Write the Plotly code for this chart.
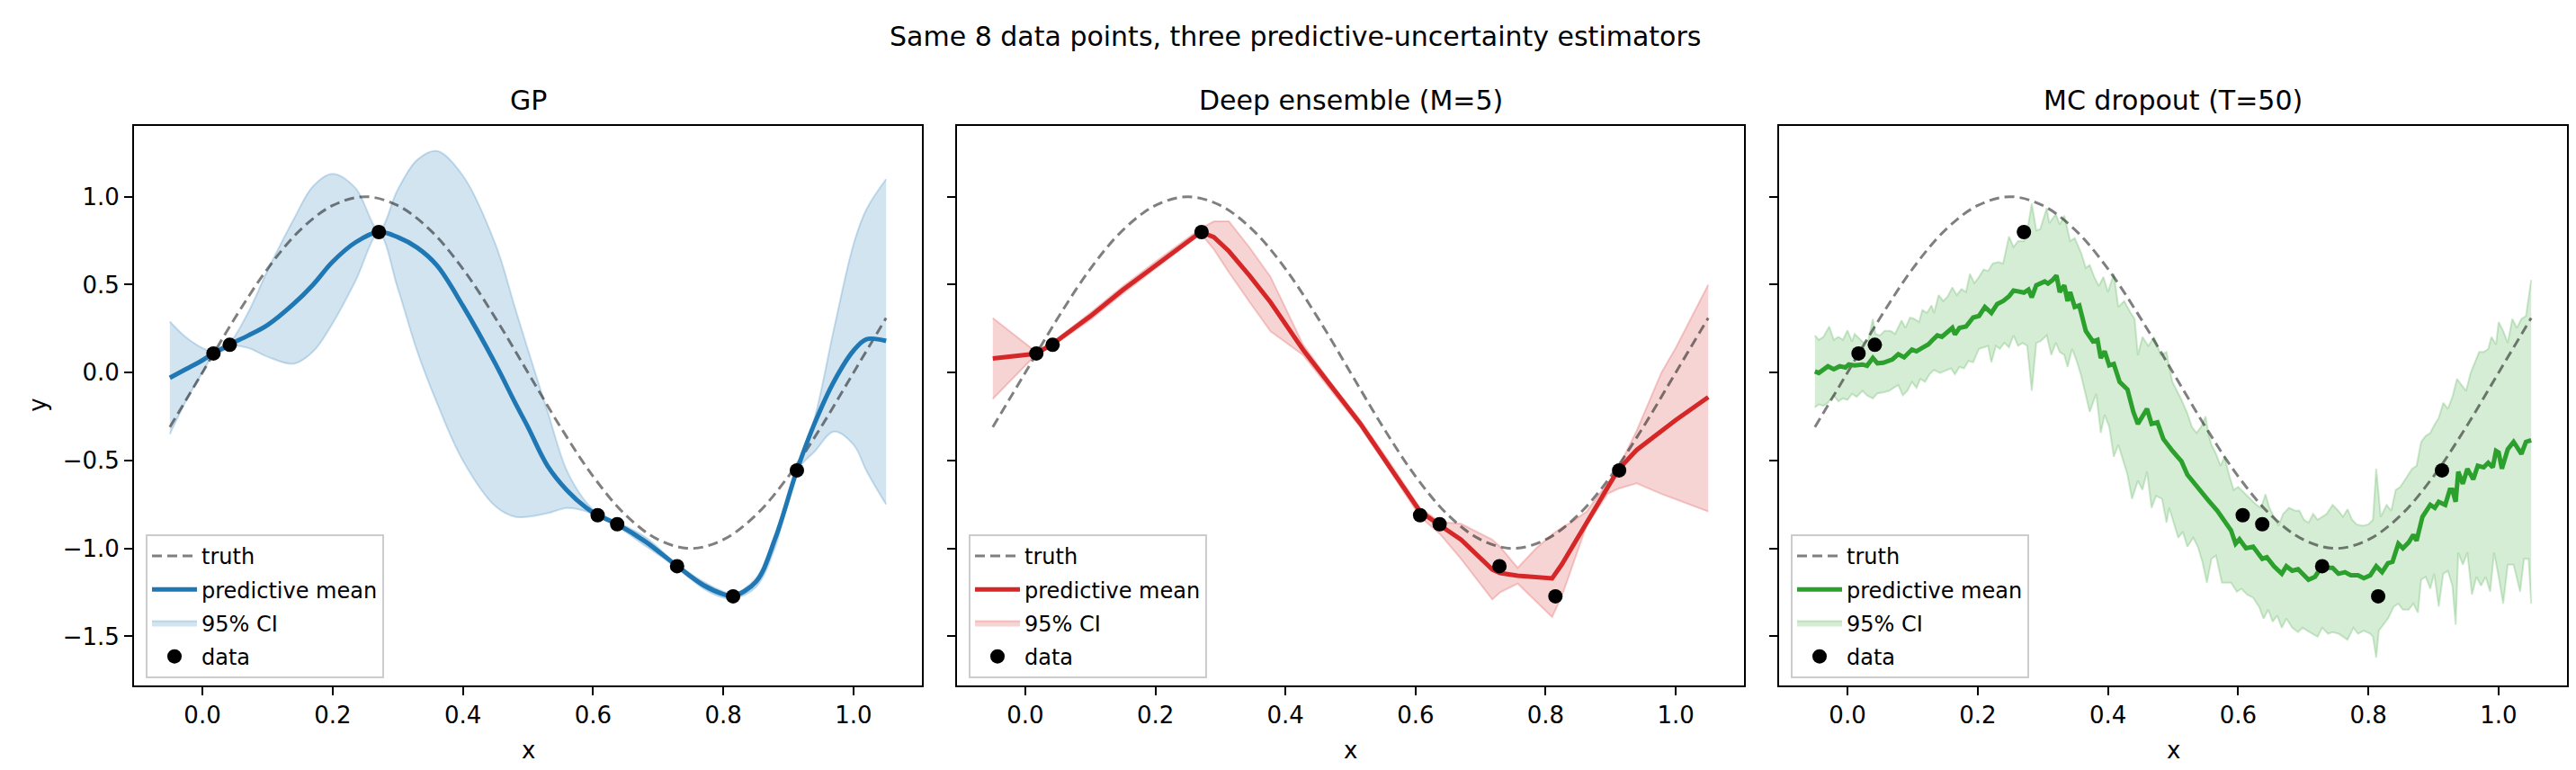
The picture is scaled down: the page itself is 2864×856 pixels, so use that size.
import plotly.graph_objects as go

# ---- data ----
truth_x = [-0.05, 0.0, 0.05, 0.1, 0.15, 0.2, 0.25, 0.3, 0.35, 0.4, 0.45, 0.5,
           0.55, 0.6, 0.65, 0.7, 0.75, 0.8, 0.85, 0.9, 0.95, 1.0, 1.05]
truth_y = [-0.31, 0.0, 0.31, 0.59, 0.81, 0.95, 1.0, 0.95, 0.81, 0.59, 0.31, 0.0,
           -0.31, -0.59, -0.81, -0.95, -1.0, -0.95, -0.81, -0.59, -0.31, 0.0, 0.31]

data_x = [0.017, 0.042, 0.271, 0.607, 0.637, 0.729, 0.815, 0.913]
data_y = [0.109, 0.158, 0.799, -0.811, -0.862, -1.101, -1.272, -0.556]

# GP
gp_x = [-0.05, -0.025, 0.0, 0.017, 0.03, 0.042, 0.07, 0.1, 0.14, 0.17, 0.2, 0.235,
        0.271, 0.3, 0.33, 0.36, 0.4, 0.45, 0.48, 0.5, 0.53, 0.56, 0.59, 0.607,
        0.637, 0.68, 0.729, 0.77, 0.8, 0.815, 0.85, 0.88, 0.913, 0.94, 0.97, 1.0,
        1.02, 1.05]
gp_mean = [-0.03, 0.02, 0.07, 0.11, 0.135, 0.16, 0.21, 0.27, 0.39, 0.50, 0.63, 0.74,
           0.80, 0.77, 0.71, 0.61, 0.38, 0.05, -0.17, -0.31, -0.53, -0.67, -0.77, -0.81,
           -0.862, -0.96, -1.10, -1.21, -1.26, -1.27, -1.19, -0.94, -0.556, -0.29, -0.05, 0.125,
           0.19, 0.18]
gp_hi = [0.29, 0.20, 0.14, 0.12, 0.15, 0.17, 0.34, 0.58, 0.87, 1.06, 1.13, 1.05,
         0.81, 1.04, 1.21, 1.26, 1.12, 0.73, 0.37, 0.13, -0.22, -0.56, -0.74, -0.80,
         -0.85, -0.935, -1.09, -1.19, -1.245, -1.26, -1.17, -0.92, -0.55, -0.26, 0.25, 0.73,
         0.93, 1.10]
gp_lo = [-0.35, -0.16, 0.00, 0.10, 0.12, 0.15, 0.14, 0.09, 0.05, 0.12, 0.28, 0.52,
         0.79, 0.48, 0.12, -0.17, -0.50, -0.76, -0.82, -0.82, -0.80, -0.77, -0.79, -0.82,
         -0.875, -0.985, -1.11, -1.23, -1.28, -1.285, -1.22, -0.99, -0.56, -0.45, -0.335, -0.41,
         -0.56, -0.75]

# Deep ensemble
ens_x = [-0.05, 0.016, 0.041, 0.1, 0.15, 0.2, 0.27, 0.29, 0.313, 0.345, 0.377, 0.427,
         0.47, 0.515, 0.56, 0.607, 0.638, 0.67, 0.718, 0.73, 0.757, 0.785, 0.81, 0.825,
         0.84, 0.863, 0.895, 0.912, 0.94, 0.978, 1.0, 1.05]
ens_mean = [0.08, 0.107, 0.16, 0.32, 0.47, 0.61, 0.80, 0.77, 0.69, 0.55, 0.40, 0.13,
            -0.076, -0.29, -0.535, -0.79, -0.87, -0.95, -1.12, -1.14, -1.155, -1.165, -1.17, -1.09,
            -0.997, -0.85, -0.65, -0.55, -0.44, -0.33, -0.27, -0.14]
ens_hi = [0.31, 0.12, 0.17, 0.34, 0.49, 0.63, 0.82, 0.86, 0.86, 0.71, 0.545, 0.16,
          -0.06, -0.27, -0.51, -0.77, -0.85, -0.86, -0.95, -0.99, -1.11, -1.00, -0.92, -0.88,
          -0.85, -0.79, -0.63, -0.54, -0.33, 0.0, 0.14, 0.50]
ens_lo = [-0.15, 0.10, 0.15, 0.30, 0.45, 0.59, 0.79, 0.70, 0.57, 0.40, 0.235, 0.10,
          -0.10, -0.31, -0.555, -0.82, -0.92, -1.06, -1.29, -1.25, -1.20, -1.30, -1.39, -1.27,
          -1.11, -0.87, -0.69, -0.66, -0.63, -0.69, -0.72, -0.79]

# MC dropout
mc_x = [-0.05, -0.044, -0.030, -0.021, -0.012, -0.003, 0.002, 0.011, 0.023, 0.030,
        0.039, 0.046, 0.055, 0.069, 0.078, 0.087, 0.099, 0.106, 0.115, 0.124,
        0.131, 0.138, 0.145, 0.152, 0.161, 0.165, 0.172, 0.182, 0.193, 0.202,
        0.211, 0.221, 0.230, 0.239, 0.248, 0.255, 0.271, 0.278, 0.283, 0.290,
        0.303, 0.308, 0.315, 0.321, 0.326, 0.333, 0.338, 0.342, 0.349, 0.356,
        0.366, 0.377, 0.384, 0.389, 0.395, 0.402, 0.409, 0.418, 0.430, 0.439,
        0.446, 0.460, 0.467, 0.476, 0.485, 0.499, 0.513, 0.522, 0.531, 0.540,
        0.554, 0.568, 0.579, 0.589, 0.596, 0.602, 0.612, 0.623, 0.637, 0.644,
        0.655, 0.667, 0.674, 0.683, 0.692, 0.699, 0.708, 0.718, 0.724, 0.734,
        0.745, 0.754, 0.764, 0.773, 0.784, 0.793, 0.803, 0.812, 0.821, 0.830,
        0.837, 0.846, 0.853, 0.862, 0.869, 0.874, 0.883, 0.895, 0.902, 0.908,
        0.918, 0.925, 0.929, 0.934, 0.938, 0.945, 0.952, 0.961, 0.968, 0.977,
        0.984, 0.991, 0.996, 1.000, 1.005, 1.014, 1.023, 1.035, 1.042, 1.05]
mc_mean = [0.007, -0.002, 0.036, 0.019, 0.036, 0.029, 0.046, 0.041, 0.046, 0.039,
           0.083, 0.053, 0.056, 0.075, 0.104, 0.087, 0.131, 0.121, 0.141, 0.160,
           0.186, 0.211, 0.203, 0.228, 0.254, 0.216, 0.254, 0.262, 0.313, 0.322,
           0.373, 0.339, 0.390, 0.407, 0.433, 0.467, 0.455, 0.472, 0.428, 0.496,
           0.518, 0.506, 0.526, 0.552, 0.458, 0.496, 0.407, 0.458, 0.373, 0.382,
           0.237, 0.177, 0.186, 0.083, 0.121, 0.041, 0.049, -0.053, -0.096, -0.223,
           -0.292, -0.206, -0.292, -0.283, -0.377, -0.445, -0.505, -0.581, -0.624, -0.667,
           -0.726, -0.786, -0.845, -0.897, -0.973, -0.948, -0.999, -0.990, -1.059, -1.050,
           -1.101, -1.144, -1.101, -1.127, -1.118, -1.144, -1.178, -1.161, -1.127, -1.110,
           -1.110, -1.144, -1.135, -1.152, -1.152, -1.169, -1.152, -1.101, -1.135, -1.084,
           -1.076, -0.973, -0.999, -0.965, -0.922, -0.956, -0.820, -0.752, -0.769, -0.735,
           -0.752, -0.667, -0.667, -0.735, -0.564, -0.632, -0.547, -0.607, -0.530, -0.539,
           -0.513, -0.539, -0.445, -0.454, -0.547, -0.436, -0.394, -0.462, -0.394, -0.385]

mc_hi_x = [-0.05, -0.044, -0.037, -0.028, -0.021, -0.014, -0.007, 0.000, 0.007, 0.011,
           0.018, 0.025, 0.032, 0.039, 0.043, 0.050, 0.057, 0.066, 0.073, 0.083,
           0.089, 0.096, 0.103, 0.110, 0.115, 0.122, 0.129, 0.133, 0.140, 0.147,
           0.154, 0.161, 0.168, 0.175, 0.182, 0.188, 0.195, 0.202, 0.209, 0.216,
           0.223, 0.232, 0.239, 0.248, 0.255, 0.262, 0.271, 0.278, 0.283, 0.290,
           0.296, 0.306, 0.310, 0.320, 0.326, 0.333, 0.342, 0.349, 0.359, 0.366,
           0.372, 0.379, 0.386, 0.393, 0.400, 0.409, 0.416, 0.425, 0.435, 0.441,
           0.446, 0.453, 0.462, 0.471, 0.481, 0.490, 0.494, 0.499, 0.506, 0.513,
           0.522, 0.529, 0.536, 0.543, 0.550, 0.554, 0.559, 0.566, 0.573, 0.579,
           0.586, 0.593, 0.600, 0.609, 0.619, 0.628, 0.635, 0.642, 0.648, 0.655,
           0.662, 0.669, 0.678, 0.688, 0.694, 0.701, 0.708, 0.715, 0.722, 0.729,
           0.736, 0.745, 0.754, 0.761, 0.768, 0.775, 0.782, 0.791, 0.800, 0.807,
           0.812, 0.819, 0.828, 0.835, 0.842, 0.849, 0.858, 0.867, 0.874, 0.881,
           0.888, 0.895, 0.901, 0.908, 0.915, 0.922, 0.929, 0.936, 0.943, 0.950,
           0.957, 0.964, 0.970, 0.977, 0.984, 0.989, 0.996, 1.000, 1.007, 1.014,
           1.021, 1.028, 1.035, 1.042, 1.049, 1.05]
mc_hi = [0.211, 0.186, 0.203, 0.262, 0.186, 0.203, 0.186, 0.240, 0.177, 0.220,
         0.194, 0.169, 0.186, 0.305, 0.220, 0.211, 0.237, 0.237, 0.220, 0.296,
         0.254, 0.313, 0.305, 0.288, 0.356, 0.339, 0.382, 0.339, 0.441, 0.407,
         0.433, 0.484, 0.441, 0.475, 0.458, 0.561, 0.509, 0.544, 0.586, 0.578,
         0.620, 0.629, 0.620, 0.774, 0.714, 0.748, 0.748, 0.850, 0.961, 0.808,
         0.816, 0.935, 0.850, 0.901, 0.842, 0.893, 0.748, 0.765, 0.680, 0.595,
         0.612, 0.544, 0.492, 0.544, 0.458, 0.561, 0.373, 0.407, 0.339, 0.305,
         0.100, 0.203, 0.152, 0.203, 0.100, 0.117, 0.032, -0.053, -0.104, -0.155,
         -0.232, -0.309, -0.343, -0.309, -0.249, -0.343, -0.411, -0.462, -0.530, -0.479,
         -0.581, -0.667, -0.650, -0.684, -0.718, -0.752, -0.769, -0.692, -0.769, -0.820,
         -0.871, -0.803, -0.769, -0.786, -0.786, -0.837, -0.854, -0.803, -0.837, -0.820,
         -0.803, -0.752, -0.786, -0.820, -0.777, -0.837, -0.863, -0.871, -0.863, -0.837,
         -0.547, -0.820, -0.752, -0.786, -0.667, -0.650, -0.598, -0.547, -0.530, -0.394,
         -0.360, -0.343, -0.300, -0.257, -0.172, -0.206, -0.138, -0.036, -0.070, -0.104,
         -0.002, 0.066, 0.117, 0.117, 0.134, 0.203, 0.160, 0.288, 0.237, 0.169,
         0.305, 0.254, 0.305, 0.322, 0.527, 0.527]

mc_lo_x = [-0.05, -0.044, -0.037, -0.030, -0.021, -0.014, -0.007, 0.000, 0.007, 0.014,
           0.023, 0.030, 0.039, 0.046, 0.055, 0.064, 0.071, 0.078, 0.085, 0.092,
           0.099, 0.106, 0.112, 0.119, 0.126, 0.133, 0.142, 0.152, 0.159, 0.165,
           0.172, 0.179, 0.186, 0.193, 0.202, 0.209, 0.216, 0.221, 0.228, 0.234,
           0.241, 0.248, 0.255, 0.262, 0.269, 0.276, 0.283, 0.290, 0.296, 0.306,
           0.313, 0.320, 0.326, 0.333, 0.338, 0.345, 0.352, 0.359, 0.366, 0.372,
           0.382, 0.389, 0.395, 0.402, 0.409, 0.416, 0.423, 0.430, 0.437, 0.446,
           0.453, 0.460, 0.467, 0.474, 0.483, 0.490, 0.494, 0.501, 0.508, 0.515,
           0.522, 0.531, 0.538, 0.545, 0.552, 0.559, 0.566, 0.575, 0.582, 0.589,
           0.598, 0.605, 0.614, 0.623, 0.632, 0.639, 0.646, 0.653, 0.660, 0.667,
           0.674, 0.683, 0.692, 0.699, 0.706, 0.715, 0.722, 0.729, 0.738, 0.745,
           0.754, 0.761, 0.768, 0.777, 0.784, 0.793, 0.803, 0.807, 0.812, 0.816,
           0.823, 0.830, 0.839, 0.846, 0.853, 0.862, 0.869, 0.876, 0.881, 0.888,
           0.895, 0.901, 0.908, 0.915, 0.922, 0.929, 0.934, 0.938, 0.945, 0.952,
           0.959, 0.966, 0.973, 0.980, 0.987, 0.993, 1.000, 1.007, 1.014, 1.023,
           1.033, 1.039, 1.046, 1.05]
mc_lo = [-0.198, -0.181, -0.189, -0.172, -0.130, -0.164, -0.147, -0.155, -0.121, -0.138,
         -0.104, -0.130, -0.147, -0.118, -0.113, -0.104, -0.087, -0.070, -0.130, -0.104,
         -0.053, -0.087, -0.036, -0.053, -0.010, 0.015, -0.002, 0.015, 0.024, -0.010,
         0.032, 0.024, 0.066, 0.058, 0.135, 0.143, 0.152, 0.058, 0.152, 0.135,
         0.169, 0.143, 0.211, 0.152, 0.169, 0.152, -0.104, 0.169, 0.177, 0.211,
         0.100, 0.169, 0.117, 0.100, 0.032, 0.135, 0.066, -0.019, -0.138, -0.223,
         -0.121, -0.343, -0.240, -0.309, -0.479, -0.411, -0.496, -0.581, -0.718, -0.615,
         -0.667, -0.564, -0.769, -0.701, -0.718, -0.854, -0.769, -0.854, -0.939, -0.905,
         -0.990, -0.939, -0.990, -1.076, -1.195, -1.059, -1.041, -1.195, -1.195, -1.195,
         -1.246, -1.229, -1.263, -1.280, -1.331, -1.399, -1.348, -1.416, -1.382, -1.451,
         -1.399, -1.451, -1.476, -1.451, -1.468, -1.485, -1.502, -1.451, -1.485, -1.476,
         -1.485, -1.502, -1.519, -1.451, -1.485, -1.468, -1.485, -1.502, -1.621, -1.468,
         -1.434, -1.399, -1.331, -1.314, -1.348, -1.348, -1.314, -1.365, -1.178, -1.161,
         -1.229, -1.144, -1.331, -1.144, -1.127, -1.212, -1.434, -1.024, -1.092, -1.024,
         -1.263, -1.161, -1.212, -1.161, -1.246, -1.024, -1.161, -1.314, -1.092, -1.092,
         -1.246, -1.059, -1.059, -1.314]

panel_titles = ["GP", "Deep ensemble (M=5)", "MC dropout (T=50)"]
suptitle = "Same 8 data points, three predictive-uncertainty estimators"

# ---- figure ----
W, H = 2864, 856
FONT = "DejaVu Sans"
x_dom = [(141, 1017), (1056, 1931), (1970, 2846)]
y_top, y_bot = 131.5, 754

panels = [
    dict(mx=gp_x, my=gp_mean, hx=gp_x, hy=gp_hi, lx=gp_x, ly=gp_lo,
         color="#1f77b4", rgb="31,119,180", shape="spline"),
    dict(mx=ens_x, my=ens_mean, hx=ens_x, hy=ens_hi, lx=ens_x, ly=ens_lo,
         color="#d62728", rgb="214,39,40", shape="linear"),
    dict(mx=mc_x, my=mc_mean, hx=mc_hi_x, hy=mc_hi, lx=mc_lo_x, ly=mc_lo,
         color="#2ca02c", rgb="44,160,44", shape="linear"),
]

fig = go.Figure()
annotations = []

for i, p in enumerate(panels):
    n = i + 1
    xa = "x" if n == 1 else "x%d" % n
    ya = "y" if n == 1 else "y%d" % n
    leg = "legend" if n == 1 else "legend%d" % n
    common = dict(xaxis=xa, yaxis=ya, legend=leg, hoverinfo="skip")

    # CI band: lower edge first, upper fills down to it
    fig.add_trace(go.Scatter(x=p["lx"], y=p["ly"], mode="lines",
                             line=dict(color="rgba(%s,0.22)" % p["rgb"], width=2, shape=p["shape"]),
                             showlegend=False, legendgroup="ci%d" % n, **common))
    fig.add_trace(go.Scatter(x=p["hx"], y=p["hy"], mode="lines", fill="tonexty",
                             fillcolor="rgba(%s,0.2)" % p["rgb"],
                             line=dict(color="rgba(%s,0.22)" % p["rgb"], width=2, shape=p["shape"]),
                             name="95% CI", legendrank=3, legendgroup="ci%d" % n, **common))
    fig.add_trace(go.Scatter(x=truth_x, y=truth_y, mode="lines",
                             line=dict(color="rgba(0,0,0,0.5)", width=3, dash="11px,6px", shape="spline"),
                             name="truth", legendrank=1, legendgroup="t%d" % n, **common))
    fig.add_trace(go.Scatter(x=p["mx"], y=p["my"], mode="lines",
                             line=dict(color=p["color"], width=5, shape=p["shape"]),
                             name="predictive mean", legendrank=2, legendgroup="m%d" % n, **common))
    fig.add_trace(go.Scatter(x=data_x, y=data_y, mode="markers",
                             marker=dict(color="black", size=16),
                             name="data", legendrank=4, legendgroup="d%d" % n, **common))

    x0, x1 = x_dom[i]
    axis_line = dict(showline=True, linewidth=2, linecolor="black", mirror=True,
                     showgrid=False, zeroline=False, ticks="outside", ticklen=9,
                     tickwidth=2, tickcolor="black",
                     tickfont=dict(family=FONT, size=26, color="black"))
    fig.update_layout(**{
        ("xaxis" if n == 1 else "xaxis%d" % n): dict(
            domain=[x0 / W, x1 / W], anchor=ya, range=[-0.105, 1.105],
            tick0=0, dtick=0.2, tickformat=".1f", **axis_line),
        ("yaxis" if n == 1 else "yaxis%d" % n): dict(
            domain=[(H - y_bot) / H, (H - y_top) / H], anchor=xa, range=[-1.779, 1.405],
            tick0=0, dtick=0.5, tickformat=".1f", showticklabels=(n == 1), **axis_line),
        leg: dict(x=(x0 + 13) / W, y=(H - 746) / H, xanchor="left", yanchor="bottom",
                  bgcolor="rgba(255,255,255,0.8)", bordercolor="#cccccc", borderwidth=2,
                  font=dict(family=FONT, size=24, color="black"),
                  itemwidth=50, tracegroupgap=3),
    })

    cx = (x0 + x1) / 2 / W
    annotations.append(dict(text=panel_titles[i], x=cx, y=(H - 103) / H, xref="paper", yref="paper",
                            showarrow=False, xanchor="center", yanchor="middle",
                            font=dict(family=FONT, size=30, color="black")))
    annotations.append(dict(text="x", x=cx, y=(H - 826) / H, xref="paper", yref="paper",
                            showarrow=False, xanchor="center", yanchor="middle",
                            font=dict(family=FONT, size=26, color="black")))

annotations.append(dict(text="y", x=34 / W, y=(H - (y_top + y_bot) / 2) / H, xref="paper", yref="paper",
                        showarrow=False, textangle=-90, xanchor="center", yanchor="middle",
                        font=dict(family=FONT, size=26, color="black")))
annotations.append(dict(text=suptitle, x=0.5, y=(H - 33) / H, xref="paper", yref="paper",
                        showarrow=False, xanchor="center", yanchor="middle",
                        font=dict(family=FONT, size=30, color="black")))

fig.update_layout(width=W, height=H, margin=dict(l=0, r=0, t=0, b=0),
                  paper_bgcolor="white", plot_bgcolor="white",
                  annotations=annotations, showlegend=True)

fig.write_html("out.html", config={"displayModeBar": False})
